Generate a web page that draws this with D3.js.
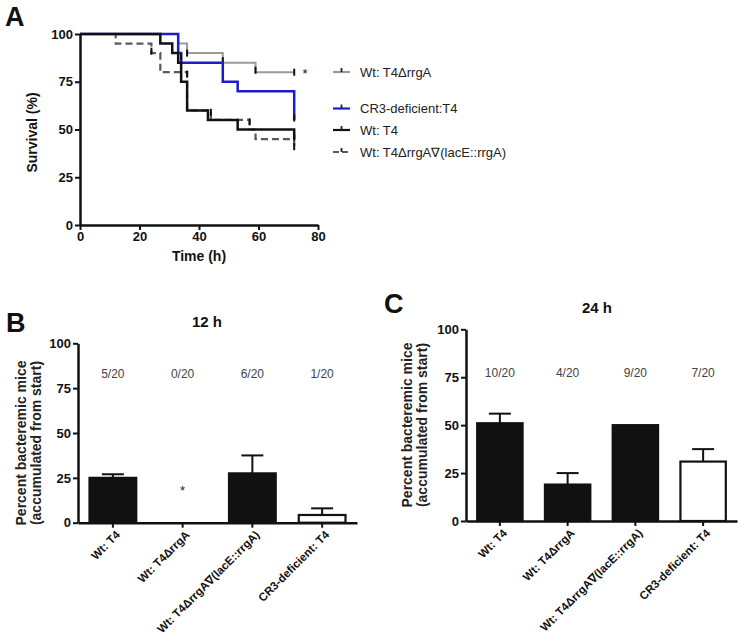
<!DOCTYPE html>
<html>
<head>
<meta charset="utf-8">
<script src="https://cdn.jsdelivr.net/npm/d3@7/dist/d3.min.js"></script>
<style>
  html, body { margin: 0; padding: 0; background: #fff; }
  svg { display: block; }
  text { font-family: Arial, "Liberation Sans", sans-serif; }
</style>
</head>
<body>
<svg id="chart" width="739" height="639"></svg>
<script>
// ---------- Data ----------
// Panel A: Kaplan-Meier survival steps [time (h), survival (%)]
const survT4dRrgA = [[0,100],[33,95],[36,90],[48,85],[59,80],[72,80]];
const survCR3     = [[0,100],[33,90],[34,85],[48,75],[53,70],[72,55]];
const survT4      = [[0,100],[27,95],[31,90],[33,85],[34,75],[36,60],[43,55],[53,50],[72,45]];
const survComp    = [[0,100],[12,95],[24,90],[27,80],[36,60],[44,55],[57,50],[59,45],[72,40]];
// censor marks [time, survival]
const censT4dRrgA = [[36,90],[48,86],[59,81],[72,80]];
const censCR3     = [[34,88],[72,56]];
const censT4      = [[72,46]];
const censComp    = [[24,91],[36,79],[44,59],[57,54],[72,41]];
const legendLabels = ["Wt: T4\u0394rrgA", "CR3-deficient:T4", "Wt: T4", "Wt: T4\u0394rrgA\u2207(lacE::rrgA)"];
const timeTicks = [0, 20, 40, 60, 80];
const survTicks = [0, 25, 50, 75, 100];

// Panels B & C
const categories = ["Wt: T4", "Wt: T4\u0394rrgA", "Wt: T4\u0394rrgA\u2207(lacE::rrgA)", "CR3-deficient: T4"];
const values12h = [25, 0, 27.5, 4.3];
const errors12h = [27, null, 37.5, 8];
const counts12h = ["5/20", "0/20", "6/20", "1/20"];
const values24h = [51, 19, 50, 31];
const errors24h = [56, 25, null, 37.5];
const counts24h = ["10/20", "4/20", "9/20", "7/20"];
const fills = ["#111", "#111", "#111", "#fff"];
const pctTicks = [0, 25, 50, 75, 100];

// ---------- Drawing ----------
const svg = d3.select("#chart");
const FONT = 'Arial, "Liberation Sans", sans-serif';

function styleAxis(g, fontSize) {
  g.selectAll(".domain").attr("stroke", "#111").attr("stroke-width", 2.5);
  g.selectAll(".tick line").attr("stroke", "#111").attr("stroke-width", 2);
  g.selectAll(".tick text").attr("fill", "#111").style("font-size", fontSize + "px")
    .style("font-weight", "bold").style("font-family", FONT);
}

// Panel letters
svg.append("text").attr("x", 5).attr("y", 26).text("A")
  .style("font-size", "27px").style("font-weight", "bold").attr("fill", "#111");
svg.append("text").attr("x", 6).attr("y", 332).text("B")
  .style("font-size", "27px").style("font-weight", "bold").attr("fill", "#111");
svg.append("text").attr("x", 384).attr("y", 313).text("C")
  .style("font-size", "27px").style("font-weight", "bold").attr("fill", "#111");

// ----- Panel A -----
const xA = d3.scaleLinear().domain([0, 80]).range([80, 318]);
const yA = d3.scaleLinear().domain([0, 100]).range([225, 34]);

const gA = svg.append("g");
const axXA = gA.append("g").attr("transform", `translate(0,${yA(0)})`)
  .call(d3.axisBottom(xA).tickValues(timeTicks).tickSize(5).tickPadding(2).tickSizeOuter(0));
styleAxis(axXA, 13);
const axYA = gA.append("g").attr("transform", `translate(${xA(0)},0)`)
  .call(d3.axisLeft(yA).tickValues(survTicks).tickSize(5).tickPadding(2).tickSizeOuter(0));
styleAxis(axYA, 13);

gA.append("text").attr("transform", `translate(37,${(yA(0)+yA(100))/2 + 3}) rotate(-90)`)
  .attr("text-anchor", "middle").text("Survival (%)")
  .style("font-size", "14px").style("font-weight", "bold").attr("fill", "#111");
gA.append("text").attr("x", xA(40)).attr("y", 261).attr("text-anchor", "middle").text("Time (h)")
  .style("font-size", "14px").style("font-weight", "bold").attr("fill", "#111");

const series = [
  { data: survT4dRrgA, cens: censT4dRrgA, color: "#9a9a9a", width: 2, dash: null },
  { data: survCR3, cens: censCR3, color: "#1c1cc8", width: 2.5, dash: null },
  { data: survComp, cens: censComp, color: "#5a5a5a", width: 2.2, dash: "7,4" },
  { data: survT4, cens: censT4, color: "#111", width: 2.5, dash: null }
];
const stepLine = d3.line().x(d => xA(d[0])).y(d => yA(d[1])).curve(d3.curveStepAfter);

series.forEach(s => {
  gA.append("path").datum(s.data).attr("d", stepLine).attr("fill", "none")
    .attr("stroke", s.color).attr("stroke-width", s.width)
    .attr("stroke-dasharray", s.dash);
  gA.selectAll(null).data(s.cens).enter().append("line")
    .attr("x1", d => xA(d[0])).attr("x2", d => xA(d[0]))
    .attr("y1", d => yA(d[1]) - 3.5).attr("y2", d => yA(d[1]) + 3.5)
    .attr("stroke", "#111").attr("stroke-width", 2);
});
gA.append("text").attr("x", xA(74.8)).attr("y", yA(80) + 6).text("*")
  .style("font-size", "13px").attr("fill", "#111");

// Legend
const legendRows = [
  { label: legendLabels[0], color: "#9a9a9a", dash: null, y: 72 },
  { label: legendLabels[1], color: "#1c1cc8", dash: null, y: 108.5 },
  { label: legendLabels[2], color: "#111", dash: null, y: 130 },
  { label: legendLabels[3], color: "#5a5a5a", dash: "6,3", y: 152 }
];
const gL = svg.append("g");
legendRows.forEach(r => {
  gL.append("line").attr("x1", 333).attr("x2", 350).attr("y1", r.y).attr("y2", r.y)
    .attr("stroke", r.color).attr("stroke-width", 2.2).attr("stroke-dasharray", r.dash);
  gL.append("line").attr("x1", 341.5).attr("x2", 341.5).attr("y1", r.y - 4).attr("y2", r.y)
    .attr("stroke", "#222").attr("stroke-width", 1.8);
  gL.append("text").attr("x", 360).attr("y", r.y + 4.5).text(r.label)
    .style("font-size", "13px").attr("fill", "#222");
});

// ----- Bar panels -----
function barPanel(opts) {
  const { x0, x1, y0, y1, vals, errs, counts, countY, title, titleX, titleY, labelX1, labelX2, labelY, star } = opts;
  const x = d3.scaleBand().domain(categories).range([x0, x1]).paddingInner(0.33).paddingOuter(0.165);
  const y = d3.scaleLinear().domain([0, 100]).range([y0, y1]);
  const g = svg.append("g");

  g.selectAll(null).data(categories).enter().append("rect")
    .attr("x", d => x(d)).attr("width", x.bandwidth())
    .attr("y", (d, i) => y(vals[i])).attr("height", (d, i) => y(0) - y(vals[i]))
    .attr("fill", (d, i) => fills[i]).attr("stroke", "#111").attr("stroke-width", 2.2);

  const eb = categories.map((c, i) => ({ c, v: vals[i], e: errs[i] })).filter(d => d.e !== null);
  g.selectAll(null).data(eb).enter().append("line")
    .attr("x1", d => x(d.c) + x.bandwidth() / 2).attr("x2", d => x(d.c) + x.bandwidth() / 2)
    .attr("y1", d => y(d.v)).attr("y2", d => y(d.e))
    .attr("stroke", "#111").attr("stroke-width", 2);
  g.selectAll(null).data(eb).enter().append("line")
    .attr("x1", d => x(d.c) + x.bandwidth() / 2 - 11).attr("x2", d => x(d.c) + x.bandwidth() / 2 + 11)
    .attr("y1", d => y(d.e)).attr("y2", d => y(d.e))
    .attr("stroke", "#111").attr("stroke-width", 2);

  const axX = g.append("g").attr("transform", `translate(0,${y(0)})`)
    .call(d3.axisBottom(x).tickSize(5).tickSizeOuter(0));
  styleAxis(axX, 11.5);
  axX.selectAll(".tick text")
    .attr("text-anchor", "end").attr("x", 0).attr("y", 0).attr("dy", "0.35em")
    .attr("transform", "translate(5,10) rotate(-45)");
  const axY = g.append("g").attr("transform", `translate(${x0},0)`)
    .call(d3.axisLeft(y).tickValues(pctTicks).tickSize(5).tickPadding(2).tickSizeOuter(0));
  styleAxis(axY, 13);

  g.selectAll(null).data(categories).enter().append("text")
    .attr("x", d => x(d) + x.bandwidth() / 2).attr("y", y(countY) + 4)
    .attr("text-anchor", "middle").text((d, i) => counts[i])
    .style("font-size", "12px").attr("fill", "#444");

  g.append("text").attr("x", titleX).attr("y", titleY).attr("text-anchor", "middle").text(title)
    .style("font-size", "15px").style("font-weight", "bold").attr("fill", "#111");

  g.append("text").attr("transform", `translate(${labelX1},${labelY}) rotate(-90)`)
    .attr("text-anchor", "middle").text("Percent bacteremic mice")
    .style("font-size", "14px").style("font-weight", "bold").attr("fill", "#222");
  g.append("text").attr("transform", `translate(${labelX2},${labelY}) rotate(-90)`)
    .attr("text-anchor", "middle").text("(accumulated from start)")
    .style("font-size", "14px").style("font-weight", "bold").attr("fill", "#222");

  if (star) {
    g.append("text").attr("x", x(categories[star.i]) + x.bandwidth() / 2).attr("y", y(star.v) + 6)
      .attr("text-anchor", "middle").text("*").style("font-size", "13px").attr("fill", "#222");
  }
}

barPanel({ x0: 78, x1: 357, y0: 522.7, y1: 343.3, vals: values12h, errs: errors12h,
  counts: counts12h, countY: 83, title: "12 h", titleX: 207, titleY: 327,
  labelX1: 26, labelX2: 41, labelY: 443, star: { i: 1, v: 19 } });
barPanel({ x0: 466, x1: 737, y0: 521, y1: 329.3, vals: values24h, errs: errors24h,
  counts: counts24h, countY: 77, title: "24 h", titleX: 597, titleY: 313,
  labelX1: 412, labelX2: 427, labelY: 425, star: null });
</script>
</body>
</html>
